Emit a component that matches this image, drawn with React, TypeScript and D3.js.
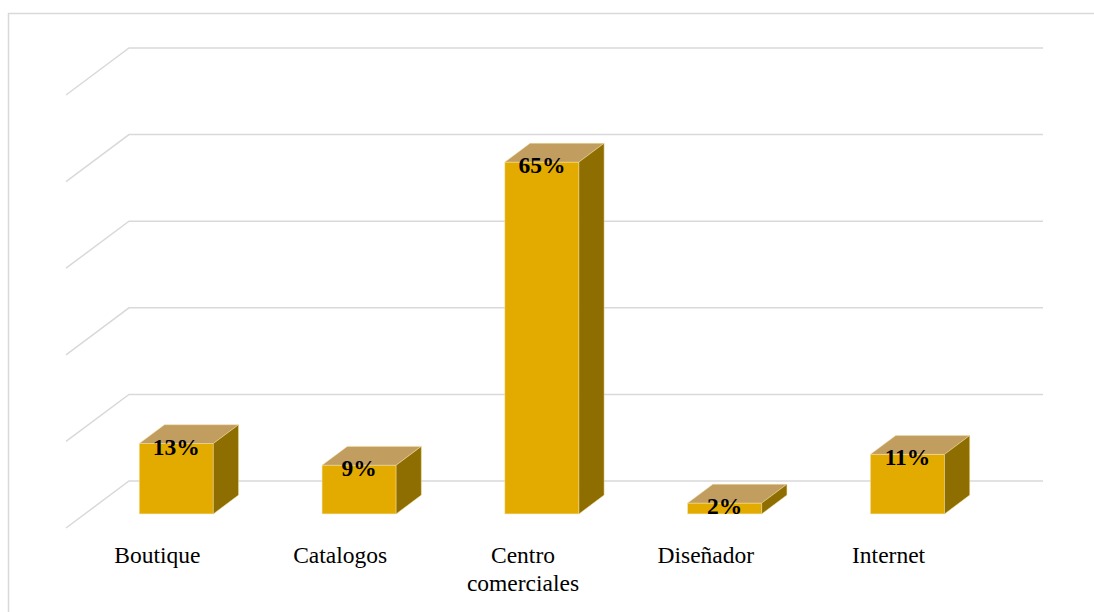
import React from "react";
import * as d3 from "d3";

const categories = ["Boutique", "Catalogos", "Centro comerciales", "Diseñador", "Internet"];
const categoryLines = [["Boutique"], ["Catalogos"], ["Centro", "comerciales"], ["Diseñador"], ["Internet"]];
const values = [0.13, 0.09, 0.65, 0.02, 0.11];
const valueLabels = ["13%", "9%", "65%", "2%", "11%"];
const gridTicks = [0, 0.16, 0.32, 0.48, 0.64, 0.8];

const W = 1094;
const H = 612;
// floor front edge
const floorLeft = 66;
const floorRight = 980;
const floorFrontY = 528;
// depth vector (front -> back)
const DX = 63;
const DY = -47;
// bars occupy depth from 0.3 to 0.7
const dFront = 0.3;
const dBack = 0.7;

const FRONT = "#E3AB00";
const SIDE = "#8E6E00";
const TOP = "#C19D60";
const GRID = "#D9D9D9";

export default function App() {
  const x = d3.scaleBand<string>().domain(categories).range([floorLeft, floorRight]).padding(0);
  const h = d3.scaleLinear().domain([0, 0.8]).range([0, 433]);
  const barW = x.bandwidth() * 0.405;
  const ddx = (dBack - dFront) * DX;
  const ddy = (dBack - dFront) * DY;
  const yb = floorFrontY + dFront * DY;

  const pts = (arr: number[][]) => arr.map((p) => p.join(",")).join(" ");

  return (
    <svg
      width={W}
      height={H}
      style={{ position: "absolute", left: 0, top: 0, background: "#fff", fontFamily: "'Liberation Serif', 'Times New Roman', serif" }}
    >
      <rect x={8.5} y={13.5} width={1100} height={620} fill="#fff" stroke={GRID} strokeWidth={1.5} />
      {gridTicks.map((t, i) => {
        const yBack = floorFrontY + DY - h(t);
        const yFront = floorFrontY - h(t);
        return (
          <polyline
            key={i}
            points={pts([
              [floorLeft, yFront],
              [floorLeft + DX, yBack],
              [floorRight + DX, yBack],
            ])}
            fill="none"
            stroke={GRID}
            strokeWidth={1.5}
          />
        );
      })}
      {categories.map((c, i) => {
        const cx = (x(c) as number) + x.bandwidth() / 2 + dFront * DX;
        const xl = cx - barW / 2;
        const xr = cx + barW / 2;
        const yt = yb - h(values[i]);
        return (
          <g key={c}>
            <rect x={xl} y={yt} width={barW} height={yb - yt} fill={FRONT} stroke="#F3DFA0" strokeWidth={0.5} />
            <polygon
              points={pts([
                [xl, yt],
                [xr, yt],
                [xr + ddx, yt + ddy],
                [xl + ddx, yt + ddy],
              ])}
              fill={TOP}
              stroke="#F3DFA0"
              strokeWidth={0.5}
            />
            <polygon
              points={pts([
                [xr, yt],
                [xr + ddx, yt + ddy],
                [xr + ddx, yb + ddy],
                [xr, yb],
              ])}
              fill={SIDE}
              stroke="#F3DFA0"
              strokeWidth={0.5}
            />
            <text x={cx} y={yt + 11} textAnchor="middle" fontWeight="bold" fontSize={23.5} fill="#000">
              {valueLabels[i]}
            </text>
          </g>
        );
      })}
      {categories.map((c, i) => {
        const cx = (x(c) as number) + x.bandwidth() / 2;
        return (
          <text key={c} x={cx} y={563} textAnchor="middle" fontSize={23.5} fill="#000">
            {categoryLines[i].map((ln, j) => (
              <tspan key={j} x={cx} dy={j === 0 ? 0 : 28}>
                {ln}
              </tspan>
            ))}
          </text>
        );
      })}
    </svg>
  );
}
